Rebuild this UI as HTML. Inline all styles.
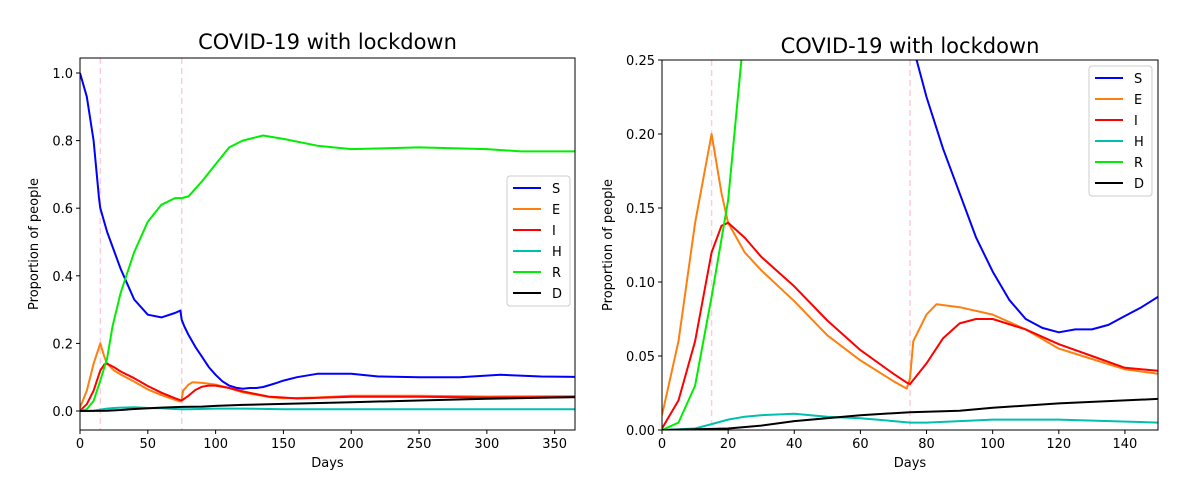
<!DOCTYPE html>
<html><head><meta charset="utf-8"><style>
body{margin:0;background:#fff;font-family:"DejaVu Sans","Liberation Sans",sans-serif;}
svg text{font-family:"DejaVu Sans","Liberation Sans",sans-serif;}
</style></head><body>
<svg id="c" width="1202" height="480" xmlns="http://www.w3.org/2000/svg"></svg>
<script>
const seriesNames=["S","E","I","H","R","D"];
const seriesColors=["#0000ff","#ff7f0e","#ff0000","#00bfae","#00ee00","#000000"];
const lockdownDays=[15,75];
const S_days=[0,5,10,14,15,20,30,40,50,60,70,74,75,77,80,85,90,95,100,105,110,115,120,125,130,135,140,145,150,160,175,200,220,250,280,310,340,365];
const S_vals=[1.0,0.93,0.80,0.63,0.60,0.53,0.42,0.33,0.285,0.277,0.29,0.297,0.27,0.25,0.225,0.19,0.16,0.13,0.107,0.088,0.075,0.069,0.066,0.068,0.068,0.071,0.077,0.083,0.09,0.10,0.11,0.11,0.102,0.10,0.10,0.107,0.102,0.101];
const E_days=[0,5,10,15,18,20,25,30,40,50,60,70,74,75,76,80,83,90,100,110,120,130,140,150,175,200,250,300,365];
const E_vals=[0.01,0.06,0.14,0.20,0.16,0.14,0.12,0.108,0.087,0.064,0.047,0.033,0.028,0.035,0.06,0.078,0.085,0.083,0.078,0.068,0.055,0.048,0.041,0.038,0.04,0.045,0.045,0.043,0.044];
const I_days=[0,5,10,15,18,20,25,30,40,50,60,70,74,75,80,85,90,95,100,110,120,130,140,150,160,200,250,300,365];
const I_vals=[0.001,0.02,0.06,0.12,0.138,0.14,0.13,0.117,0.097,0.074,0.054,0.038,0.032,0.031,0.045,0.062,0.072,0.075,0.075,0.068,0.058,0.05,0.042,0.04,0.037,0.042,0.042,0.04,0.041];
const H_days=[0,10,15,20,25,30,40,50,60,70,75,80,100,120,150,200,365];
const H_vals=[0,0.001,0.004,0.007,0.009,0.010,0.011,0.009,0.008,0.006,0.005,0.005,0.007,0.007,0.005,0.005,0.005];
const R_days=[0,5,10,15,20,24,30,40,50,60,70,75,80,90,100,110,120,135,150,175,200,250,300,325,365];
const R_vals=[0,0.005,0.03,0.09,0.155,0.25,0.35,0.47,0.56,0.61,0.63,0.63,0.635,0.68,0.73,0.78,0.80,0.815,0.805,0.785,0.775,0.78,0.775,0.768,0.768];
const D_days=[0,20,30,40,60,75,90,100,120,150,200,250,300,365];
const D_vals=[0,0.001,0.003,0.006,0.01,0.012,0.013,0.015,0.018,0.021,0.026,0.031,0.036,0.041];
const allDays=[S_days,E_days,I_days,H_days,R_days,D_days];
const allVals=[S_vals,E_vals,I_vals,H_vals,R_vals,D_vals];
const leftXTicks=[0,50,100,150,200,250,300,350];
const leftYTicks=[0,0.2,0.4,0.6,0.8,1.0];
const rightXTicks=[0,20,40,60,80,100,120,140];
const rightYTicks=[0,0.05,0.10,0.15,0.20,0.25];

const NS="http://www.w3.org/2000/svg";
const svg=document.getElementById('c');
function mk(tag,attrs,parent){const e=document.createElementNS(NS,tag);for(const k in attrs)e.setAttribute(k,attrs[k]);(parent||svg).appendChild(e);return e;}

function panel(id,cfg){
  const g=mk('g',{});
  
  
  const {L,R,T,B,x0,x1,y0,y1,y0px,y1px}=cfg;
  const sx=d=>L+(d-x0)/(x1-x0)*(R-L);
  const sy=v=>y0px+(v-y0)/(y1-y0)*(y1px-y0px);
  mk('clipPath',{id:id+'-clip'},g).appendChild(document.createElementNS(NS,'rect'));
  const cr=g.querySelector('clipPath rect');cr.setAttribute('x',L);cr.setAttribute('y',T);cr.setAttribute('width',R-L);cr.setAttribute('height',B-T);
  const plot=mk('g',{'clip-path':'url(#'+id+'-clip)'},g);
  lockdownDays.forEach(d=>{
    const l=mk('line',{x1:sx(d),x2:sx(d),y1:T,y2:B,stroke:'#ffccdd','stroke-width':1.5,'stroke-dasharray':'6,4'},plot);
    
    
  });
  seriesNames.forEach((n,i)=>{
    const pts=allDays[i].map((d,j)=>sx(d).toFixed(1)+','+sy(allVals[i][j]).toFixed(1)).join(' ');
    const p=mk('polyline',{points:pts,fill:'none',stroke:seriesColors[i],'stroke-width':2,'stroke-linejoin':'round'},plot);
    
    
  });
  const fr=mk('rect',{x:L,y:T,width:R-L,height:B-T,fill:'none',stroke:'#000','stroke-width':1},g);
  
  
  cfg.xt.forEach(t=>{
    const x=sx(t);
    mk('line',{x1:x,x2:x,y1:B,y2:B+4,stroke:'#000'},g);
    const tx=mk('text',{x:x,y:B+18,'font-size':13,'text-anchor':'middle',fill:'#000'},g);tx.textContent=t;
    
    
  });
  cfg.yt.forEach(t=>{
    const y=sy(t);
    mk('line',{x1:L-4,x2:L,y1:y,y2:y,stroke:'#000'},g);
    const tx=mk('text',{x:L-7,y:y+5,'font-size':13,'text-anchor':'end',fill:'#000'},g);tx.textContent=t.toFixed(cfg.dec);
    
    
  });
  const xl=mk('text',{x:(L+R)/2,y:B+37,'font-size':13,'text-anchor':'middle'},g);xl.textContent='Days';
  
  
  const yl=mk('text',{x:0,y:0,'font-size':13,'text-anchor':'middle',transform:'translate('+cfg.ylx+','+((T+B)/2)+') rotate(-90)'},g);yl.textContent='Proportion of people';
  
  
  const ti=mk('text',{x:(L+R)/2,y:cfg.ty,'font-size':21,'text-anchor':'middle'},g);ti.textContent='COVID-19 with lockdown';
  
  
  const lg=mk('g',{},g);
  
  
  mk('rect',{x:cfg.lgx,y:cfg.lgy,width:63,height:130,rx:3,fill:'#fff',stroke:'#ccc'},lg);
  seriesNames.forEach((n,i)=>{
    const y=cfg.lgy+12+i*21;
    mk('line',{x1:cfg.lgx+6,x2:cfg.lgx+34,y1:y,y2:y,stroke:seriesColors[i],'stroke-width':2},lg);
    const t=mk('text',{x:cfg.lgx+45,y:y+5,'font-size':13},lg);t.textContent=n;
    
    
  });
}
panel('left',{L:80,R:575,T:58,B:430,x0:0,x1:365,y0:0,y1:1,y0px:411,y1px:73,xt:leftXTicks,yt:leftYTicks,dec:1,ylx:38,ty:49,lgx:507,lgy:176});
panel('right',{L:662,R:1158,T:60,B:430,x0:0,x1:150,y0:0,y1:0.25,y0px:430,y1px:60,xt:rightXTicks,yt:rightYTicks,dec:2,ylx:612,ty:53,lgx:1089,lgy:66});
</script>
</body></html>
